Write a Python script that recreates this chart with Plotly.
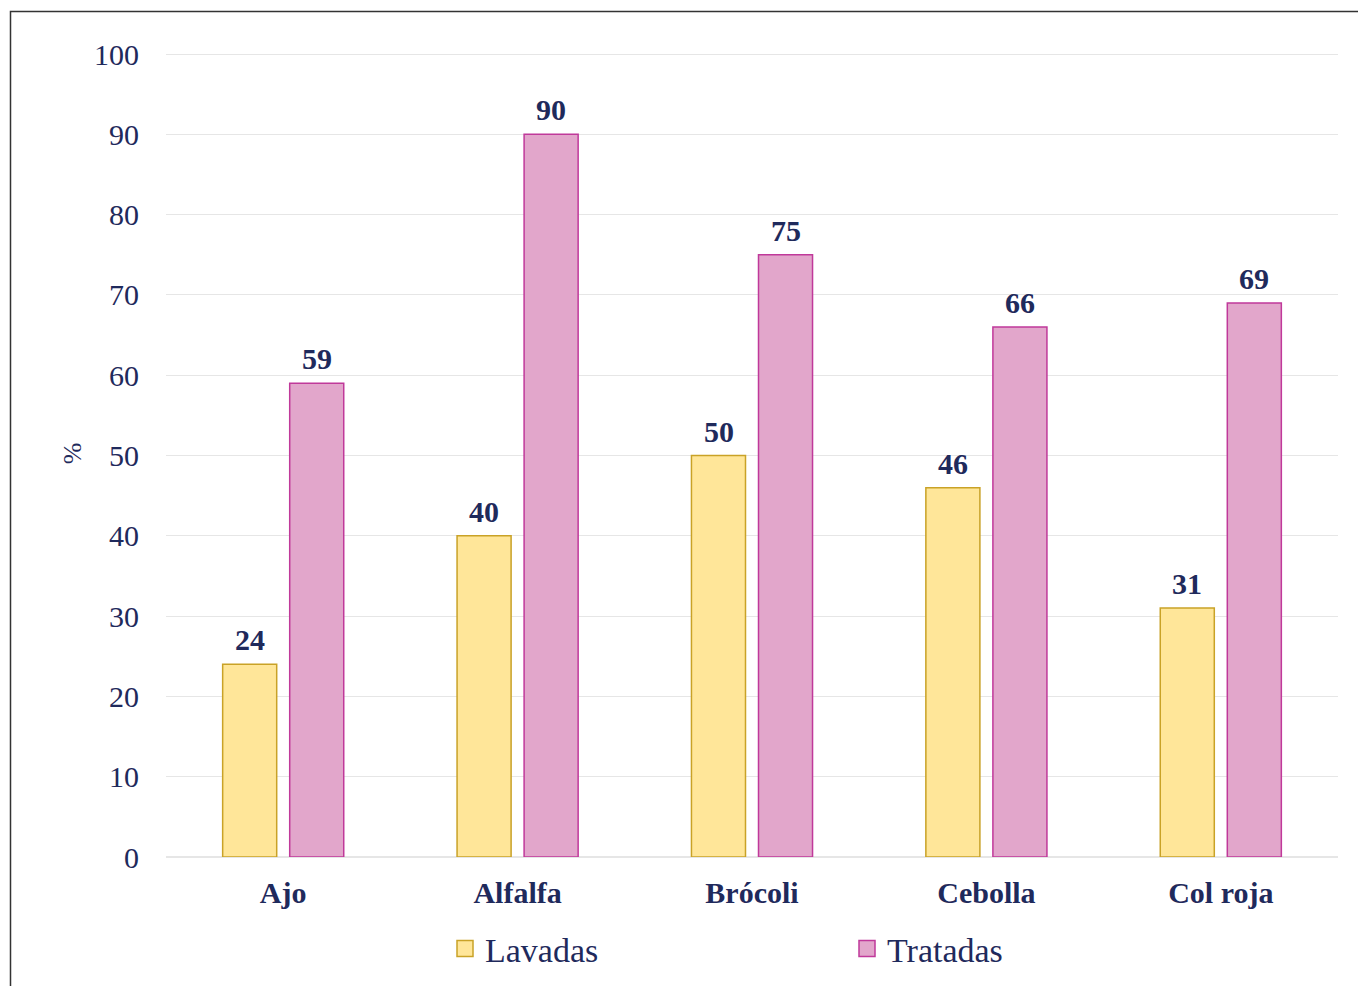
import plotly.graph_objects as go

categories = ["Ajo", "Alfalfa", "Brócoli", "Cebolla", "Col roja"]
lavadas = [24, 40, 50, 46, 31]
tratadas = [59, 90, 75, 66, 69]
y_ticks = [0, 10, 20, 30, 40, 50, 60, 70, 80, 90, 100]

navy = "#1F2A5C"
serif = "Liberation Serif, Times New Roman, serif"
series = [
    ("Lavadas", lavadas, "#FFE699", "#C9A227", -33.5),
    ("Tratadas", tratadas, "#E2A6CB", "#C0399A", 33.5),
]

fig = go.Figure()
annotations = []
for name, vals, fill, edge, shift in series:
    fig.add_trace(go.Bar(
        x=categories, y=vals, name=name, showlegend=False, legendgroup=name,
        marker=dict(color=fill, line=dict(color=edge, width=1.5)),
    ))
    # legend entry with a larger square swatch
    fig.add_trace(go.Scatter(
        x=[None], y=[None], mode="markers", name=name, legendgroup=name,
        marker=dict(symbol="square", size=16, color=fill, line=dict(color=edge, width=1.5)),
    ))
    for cat, v in zip(categories, vals):
        annotations.append(dict(
            x=cat, y=v, xref="x", yref="y", text=str(v), showarrow=False,
            xshift=shift, yshift=6, yanchor="bottom",
            font=dict(family=serif, size=30, color=navy, weight="bold"),
        ))

W, H = 1358, 986
ml, mr, mt, mb = 166, 20, 50, 129
pw, ph = W - ml - mr, H - mt - mb

def px_x(p):
    return (p - ml) / pw

def px_y(p):
    return (H - mb - p) / ph

fig.update_layout(
    width=W, height=H,
    margin=dict(l=ml, r=mr, t=mt, b=mb, autoexpand=False),
    paper_bgcolor="white", plot_bgcolor="white",
    barmode="group", bargap=0.428, bargroupgap=0.194,
    font=dict(family=serif, color=navy),
    showlegend=True,
    legend=dict(
        orientation="h", x=px_x(445), xanchor="left", y=px_y(949), yanchor="middle",
        font=dict(family=serif, size=34, color=navy),
        entrywidth=357, entrywidthmode="pixels", itemsizing="trace",
        itemclick=False, itemdoubleclick=False,
    ),
    xaxis=dict(
        showgrid=False, showline=False, ticks="",
        tickfont=dict(family=serif, size=30, color=navy, weight="bold"),
        ticklabelstandoff=15,
    ),
    yaxis=dict(
        range=[0, 100.5], tickvals=y_ticks, showgrid=True, gridcolor="#E6E6E6", gridwidth=1,
        zeroline=True, zerolinecolor="#E6E6E6", zerolinewidth=1.5,
        showline=False, ticks="",
        tickfont=dict(family=serif, size=30, color=navy),
        ticklabelstandoff=26,
        title=dict(text="%", font=dict(family=serif, size=26, color=navy), standoff=4),
    ),
    annotations=annotations,
    shapes=[dict(
        type="rect", xref="paper", yref="paper",
        x0=px_x(10.5), x1=px_x(1362), y0=px_y(995), y1=px_y(11.5),
        line=dict(color="#333333", width=1.5), fillcolor="rgba(0,0,0,0)", layer="above",
    )],
)

fig.write_html("out.html")
